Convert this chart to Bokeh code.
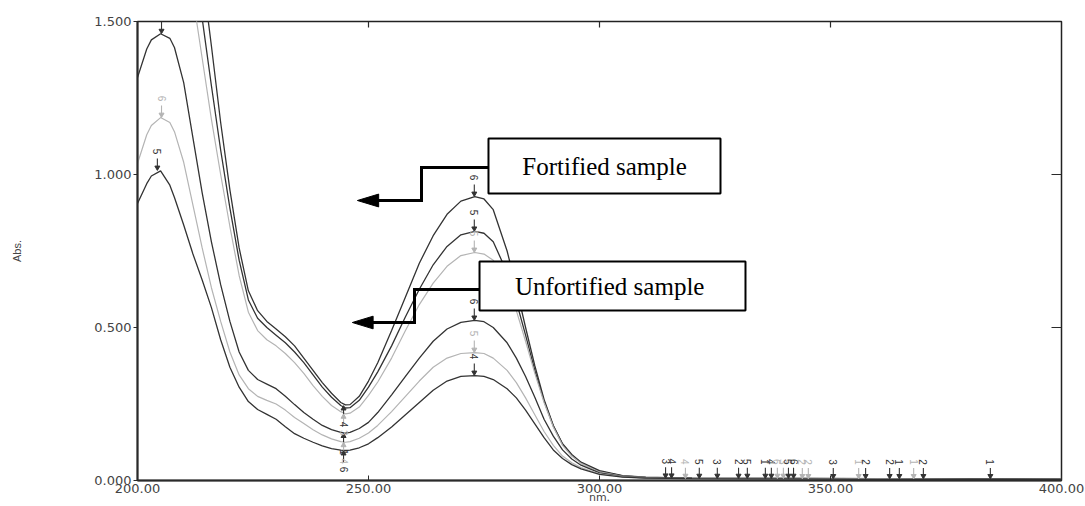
from math import pi
from bokeh.plotting import figure
from bokeh.models import FixedTicker, NumeralTickFormatter, ColumnDataSource, Range1d
from bokeh.core.properties import value
from bokeh.embed import file_html
from bokeh.resources import INLINE

# ---------------- data ----------------
wavelength = [200, 202, 203, 205, 207, 208, 210, 212, 214, 216, 218, 220, 222, 224, 226,
              228, 230, 232, 234, 236, 238, 240, 242, 244, 245, 246, 248, 250, 252, 255,
              258, 261, 264, 267, 270, 273, 275, 277, 280, 282, 284, 286, 288, 290, 292,
              294, 296, 300, 305, 310, 320, 340, 360, 380, 400]

fortified_1 = [2.30, 2.45, 2.50, 2.55, 2.45, 2.38, 2.15, 1.90, 1.66, 1.42, 1.17, 0.95, 0.76, 0.62, 0.555,
               0.52, 0.495, 0.47, 0.44, 0.40, 0.36, 0.32, 0.285, 0.255, 0.247, 0.248, 0.275, 0.325, 0.385, 0.49,
               0.60, 0.71, 0.80, 0.87, 0.913, 0.928, 0.92, 0.885, 0.75, 0.63, 0.50, 0.375, 0.265, 0.18, 0.12,
               0.085, 0.06, 0.032, 0.016, 0.011, 0.008, 0.007, 0.006, 0.006, 0.005]
fortified_2 = [2.20, 2.35, 2.40, 2.45, 2.35, 2.28, 2.00, 1.74, 1.51, 1.29, 1.08, 0.89, 0.72, 0.59, 0.53,
               0.50, 0.475, 0.45, 0.42, 0.385, 0.345, 0.305, 0.272, 0.245, 0.237, 0.238, 0.262, 0.305, 0.355, 0.44,
               0.535, 0.625, 0.705, 0.765, 0.803, 0.814, 0.808, 0.78, 0.68, 0.585, 0.475, 0.36, 0.26, 0.178, 0.118,
               0.082, 0.058, 0.03, 0.015, 0.010, 0.008, 0.007, 0.006, 0.005, 0.005]
fortified_3 = [2.10, 2.25, 2.30, 2.35, 2.25, 2.18, 1.85, 1.58, 1.38, 1.18, 1.00, 0.83, 0.67, 0.55, 0.49,
               0.46, 0.44, 0.415, 0.385, 0.35, 0.31, 0.275, 0.245, 0.225, 0.218, 0.22, 0.24, 0.278, 0.322, 0.40,
               0.49, 0.575, 0.645, 0.70, 0.735, 0.745, 0.74, 0.72, 0.64, 0.555, 0.455, 0.35, 0.255, 0.175, 0.115,
               0.08, 0.056, 0.028, 0.014, 0.010, 0.007, 0.006, 0.006, 0.005, 0.004]
unfortified_1 = [1.317, 1.41, 1.44, 1.46, 1.445, 1.415, 1.30, 1.12, 0.94, 0.78, 0.64, 0.52, 0.42, 0.36, 0.33,
                 0.315, 0.30, 0.275, 0.248, 0.222, 0.20, 0.18, 0.166, 0.157, 0.155, 0.157, 0.17, 0.19, 0.222, 0.28,
                 0.34, 0.40, 0.455, 0.495, 0.517, 0.523, 0.519, 0.50, 0.45, 0.40, 0.34, 0.272, 0.20, 0.145, 0.10,
                 0.07, 0.05, 0.025, 0.013, 0.009, 0.007, 0.006, 0.005, 0.005, 0.004]
unfortified_2 = [1.036, 1.13, 1.16, 1.186, 1.17, 1.14, 1.04, 0.90, 0.76, 0.63, 0.52, 0.42, 0.345, 0.30, 0.275,
                 0.262, 0.25, 0.23, 0.206, 0.186, 0.166, 0.149, 0.136, 0.127, 0.125, 0.127, 0.138, 0.155, 0.18, 0.225,
                 0.275, 0.325, 0.37, 0.40, 0.415, 0.418, 0.415, 0.40, 0.36, 0.32, 0.27, 0.215, 0.16, 0.115, 0.08,
                 0.058, 0.042, 0.022, 0.012, 0.008, 0.006, 0.005, 0.005, 0.004, 0.004]
unfortified_3 = [0.905, 0.97, 0.995, 1.012, 0.965, 0.925, 0.835, 0.74, 0.655, 0.565, 0.46, 0.37, 0.305, 0.258, 0.232,
                 0.216, 0.20, 0.176, 0.153, 0.138, 0.125, 0.113, 0.104, 0.099, 0.098, 0.099, 0.107, 0.12, 0.14, 0.175,
                 0.215, 0.255, 0.295, 0.325, 0.34, 0.343, 0.34, 0.33, 0.30, 0.27, 0.23, 0.185, 0.14, 0.10, 0.072,
                 0.052, 0.038, 0.02, 0.011, 0.008, 0.006, 0.005, 0.004, 0.004, 0.003]

series_colors = ["dark", "dark", "light", "dark", "light", "dark"]

# peak markers (arrow points down onto the peak)
peak_nm = [205.2, 205.2, 204.3, 272.9, 272.9, 272.9, 272.9, 272.9, 272.9]
peak_abs = [1.46, 1.186, 1.013, 0.928, 0.814, 0.745, 0.523, 0.418, 0.343]
peak_txt = ["5", "6", "5", "6", "5", "5", "6", "5", "4"]
peak_col = ["dark", "light", "dark", "dark", "dark", "light", "dark", "light", "dark"]

# valley markers (arrow points up onto the valley)
valley_nm = [244.6, 244.6, 244.6, 244.6, 244.6]
valley_abs = [0.245, 0.218, 0.155, 0.125, 0.098]
valley_txt = ["4", "3", "1", "4", "6"]
valley_col = ["dark", "light", "dark", "light", "dark"]

# small peak picks on the baseline
base_nm = [314.3, 315.6, 318.6, 321.6, 325.5, 330.1, 332.0, 335.9, 337.2, 338.5, 339.8, 340.9,
           342.0, 343.9, 345.2, 350.6, 356.1, 357.6, 362.8, 364.9, 368.0, 370.1, 384.6]
base_abs = [0.007, 0.007, 0.006, 0.006, 0.006, 0.006, 0.006, 0.006, 0.006, 0.006, 0.006, 0.006,
            0.006, 0.005, 0.005, 0.005, 0.005, 0.005, 0.005, 0.005, 0.005, 0.005, 0.005]
base_txt = ["3", "4", "4", "5", "3", "2", "5", "1", "4", "6", "3", "5",
            "6", "2", "2", "3", "1", "2", "2", "1", "1", "2", "1"]
base_col = ["dark", "dark", "light", "dark", "dark", "dark", "dark", "dark", "dark", "light", "light", "dark",
            "dark", "light", "light", "dark", "light", "dark", "dark", "dark", "light", "dark", "dark"]

x_ticks = [200, 250, 300, 350, 400]
y_ticks = [0.0, 0.5, 1.0, 1.5]
x_title = "nm."
y_title = "Abs."

# callouts
callout_text = ["Fortified sample", "Unfortified sample"]
box_left = [275.97, 274.03]
box_right = [326.19, 331.6]
box_top = [1.1176, 0.7157]
box_bottom = [0.9379, 0.5556]
text_x = [301.1, 302.2]
text_y = [1.026, 0.634]
conn_f_x = [275.9, 261.47, 261.47, 251.0]
conn_f_y = [1.0229, 1.0229, 0.915, 0.915]
head_f_x = [247.6, 252.2, 252.2]
head_f_y = [0.915, 0.936, 0.894]
conn_u_x = [274.1, 259.96, 259.96, 250.4]
conn_u_y = [0.6242, 0.6242, 0.5163, 0.5163]
head_u_x = [246.5, 251.0, 251.0]
head_u_y = [0.5163, 0.537, 0.4956]

# ---------------- styling constants ----------------
DARK = "#333333"
LIGHT = "#b4b4b4"
AXC = "#2a2a2a"
LBL = "#444444"
col = {"dark": DARK, "light": LIGHT}
PXY = 306.0   # px per absorbance unit in the frame
PXX = 4.62    # px per nm

p = figure(width=1085, height=506,
           x_range=Range1d(200, 400), y_range=Range1d(0, 1.5),
           output_backend="svg", toolbar_location=None, tools="",
           min_border_left=137, min_border_right=24, min_border_top=21, min_border_bottom=26)
p.background_fill_color = "white"
p.border_fill_color = "white"
p.xgrid.visible = False
p.ygrid.visible = False
p.outline_line_color = "#222222"
p.outline_line_width = 1.5

# bottom axis
p.xaxis.ticker = FixedTicker(ticks=x_ticks)
p.xaxis.formatter = NumeralTickFormatter(format="0.00")
p.xaxis.major_tick_in = 5
p.xaxis.major_tick_out = 0
p.xaxis.minor_tick_line_color = None
p.xaxis.axis_line_width = 2
p.xaxis.axis_line_color = AXC
p.xaxis.major_tick_line_color = AXC
p.xaxis.major_label_standoff = 3
p.xaxis.major_label_text_font = "DejaVu Sans"
p.xaxis.major_label_text_font_size = "13px"
p.xaxis.major_label_text_color = LBL
p.xaxis.axis_label = x_title
p.xaxis.axis_label_standoff = -5
p.xaxis.axis_label_text_font = "DejaVu Sans"
p.xaxis.axis_label_text_font_size = "11px"
p.xaxis.axis_label_text_font_style = "normal"
p.xaxis.axis_label_text_color = LBL

# left axis
p.yaxis.ticker = FixedTicker(ticks=y_ticks)
p.yaxis.formatter = NumeralTickFormatter(format="0.000")
p.yaxis.major_tick_in = 0
p.yaxis.major_tick_out = 4
p.yaxis.minor_tick_line_color = None
p.yaxis.axis_line_width = 2
p.yaxis.axis_line_color = AXC
p.yaxis.major_tick_line_color = AXC
p.yaxis.major_label_standoff = 2
p.yaxis.major_label_text_font = "DejaVu Sans"
p.yaxis.major_label_text_font_size = "13px"
p.yaxis.major_label_text_color = LBL
p.yaxis.axis_label = y_title
p.yaxis.axis_label_standoff = 68
p.yaxis.axis_label_text_font = "Liberation Sans"
p.yaxis.axis_label_text_font_size = "11px"
p.yaxis.axis_label_text_font_style = "normal"
p.yaxis.axis_label_text_color = LBL

# inner ticks on the top and right frame edges
top_ticks = x_ticks[1:-1]
p.segment(x0=top_ticks, y0=[1.5] * len(top_ticks), x1=top_ticks,
          y1=[1.5 - 6 / PXY] * len(top_ticks), line_color=AXC, line_width=1.2)
right_ticks = y_ticks[1:-1]
p.segment(x0=[400] * len(right_ticks), y0=right_ticks, x1=[400 - 10 / PXX] * len(right_ticks),
          y1=right_ticks, line_color=AXC, line_width=1.2)

# spectra
series = [fortified_1, fortified_2, fortified_3, unfortified_1, unfortified_2, unfortified_3]
for vals, c in zip(series, series_colors):
    p.line(wavelength, vals, line_color=col[c], line_width=1.3 if c == "dark" else 1.2)

# peak/valley picks
def picks(xs, tips, txts, cols, direction, shaft_px=12, label_px=19):
    s = direction  # +1: label above, arrow down; -1: label below, arrow up
    src = ColumnDataSource(dict(
        x=xs,
        tip=[t + s * 1.5 / PXY for t in tips],
        head=[t + s * 3.0 / PXY for t in tips],
        top=[t + s * shaft_px / PXY for t in tips],
        ly=[t + s * label_px / PXY for t in tips],
        txt=txts,
        c=[col[k] for k in cols]))
    p.segment(x0="x", y0="tip", x1="x", y1="top", source=src, line_color="c", line_width=1.1)
    p.scatter(x="x", y="head", source=src, marker="inverted_triangle" if s > 0 else "triangle",
              size=5, fill_color="c", line_color="c")
    p.text(x="x", y="ly", text="txt", source=src, angle=-pi / 2, text_align="center",
           text_baseline="middle", text_font=value("Liberation Sans"), text_font_size="10px",
           text_color="c")

picks(peak_nm, peak_abs, peak_txt, peak_col, +1)
picks(valley_nm, valley_abs, valley_txt, valley_col, -1)
picks(base_nm, base_abs, base_txt, base_col, +1, shaft_px=11, label_px=17)

# callout boxes and arrows
p.quad(left=box_left, right=box_right, top=box_top, bottom=box_bottom,
       fill_color="white", line_color="black", line_width=2)
p.text(x=text_x, y=text_y, text=callout_text, text_align="center", text_baseline="middle",
       text_font=value("Liberation Serif"), text_font_size="25px", text_color="black")
p.line(conn_f_x, conn_f_y, line_color="black", line_width=3, line_join="miter")
p.patch(head_f_x, head_f_y, fill_color="black", line_color="black")
p.line(conn_u_x, conn_u_y, line_color="black", line_width=3, line_join="miter")
p.patch(head_u_x, head_u_y, fill_color="black", line_color="black")

open("out.html", "w").write(file_html(p, INLINE))
